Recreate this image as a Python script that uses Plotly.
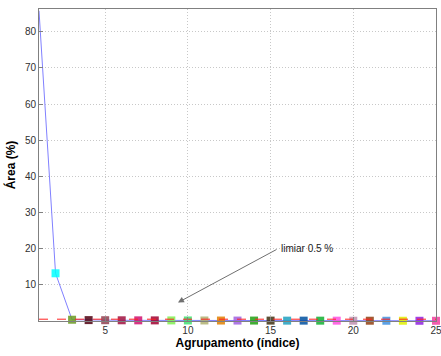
import plotly.graph_objects as go

# Cluster index and area share of each cluster (%)
indices = list(range(1, 26))
area_pct = [85.8, 13.2, 0.35, 0.25, 0.22, 0.2, 0.18, 0.17, 0.16, 0.15, 0.14, 0.13,
            0.12, 0.12, 0.11, 0.1, 0.1, 0.09, 0.09, 0.08, 0.08, 0.07, 0.07, 0.06, 0.06]
marker_colors = ["#4040ff", "#00ffff", "#6a9a20", "#500010", "#904050", "#a01040",
                 "#d01070", "#a00030", "#80f050", "#40e070", "#b0b070", "#e08000",
                 "#a060e0", "#20a010", "#403010", "#20a0c0", "#0050a0", "#10b030",
                 "#ff50e0", "#c090b0", "#904010", "#4090e0", "#e0f000", "#9020e0",
                 "#f040a0"]
threshold = 0.5
x_ticks = [5, 10, 15, 20, 25]
y_ticks = [10, 20, 30, 40, 50, 60, 70, 80]

fig = go.Figure()

# area curve
fig.add_trace(go.Scatter(
    x=indices, y=area_pct, mode="lines",
    line=dict(color="#8080ff", width=1), showlegend=False, cliponaxis=False))

# one coloured square per cluster (the first lies on the top edge)
fig.add_trace(go.Scatter(
    x=indices[1:], y=area_pct[1:], mode="markers",
    marker=dict(symbol="square", size=8, color=marker_colors[1:], opacity=0.85,
                line=dict(width=0)),
    showlegend=False, cliponaxis=False))

# threshold line, drawn over the markers
fig.add_trace(go.Scatter(
    x=[indices[0], indices[-1]], y=[threshold, threshold], mode="lines",
    line=dict(color="#ff2020", width=1, dash="dash"), hoverinfo="skip",
    showlegend=False, cliponaxis=False))

fig.add_annotation(
    x=9.4, y=5.1, ax=15.45, ay=20, xref="x", yref="y", axref="x", ayref="y",
    text="", showarrow=True, arrowhead=2, arrowsize=1.2, arrowwidth=1,
    arrowcolor="#707070", standoff=0, startstandoff=0)
fig.add_annotation(
    x=15.5, y=20, xref="x", yref="y", text="limiar 0.5 %", showarrow=False,
    xanchor="left", yanchor="middle",
    font=dict(family="Liberation Sans, Arial", size=10, color="#202020"))

axis_common = dict(
    showgrid=True, gridcolor="#c8c8c8", griddash="1px,2px", gridwidth=1,
    showline=True, linecolor="#808080", linewidth=1, mirror=True,
    ticks="inside", ticklen=4, tickcolor="#808080", zeroline=False,
    ticklabeloverflow="allow", automargin=False,
    tickfont=dict(family="Liberation Sans, Arial", size=10, color="#303030"),
)

fig.update_xaxes(range=[0.9999, 25.0001], tickvals=x_ticks, **axis_common,
                 title=dict(text="<b>Agrupamento (índice)</b>", standoff=0,
                            font=dict(family="Liberation Sans, Arial", size=12,
                                      color="#000000")))
fig.update_yaxes(range=[0, 86.3], tickvals=y_ticks, **axis_common,
                 title=dict(text="<b>Área (%)</b>", standoff=6,
                            font=dict(family="Liberation Sans, Arial", size=12,
                                      color="#000000")))

fig.update_layout(
    width=441, height=356, margin=dict(l=39, r=5, t=9, b=35),
    plot_bgcolor="white", paper_bgcolor="white",
)

fig.write_html("out.html")
